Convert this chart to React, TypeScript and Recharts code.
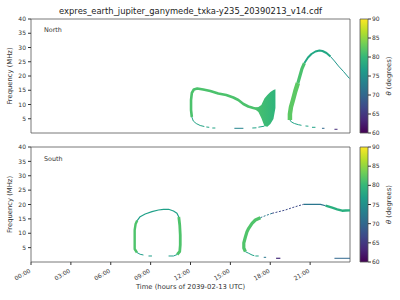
import React from "react";
import {
  ComposedChart,
  Line,
  Area,
  XAxis,
  YAxis,
  ReferenceArea,
  BarChart,
  Bar,
} from "recharts";

type Pt = [number, number | null];

const hourTicks = [0, 3, 6, 9, 12, 15, 18, 21];
const hourLabels = ["00:00", "03:00", "06:00", "09:00", "12:00", "15:00", "18:00", "21:00"];
const freqTicks = [5, 10, 15, 20, 25, 30, 35, 40];
const thetaTicks = [60, 65, 70, 75, 80, 85, 90];
const thetaRange = [{ k: "cb", v: [60, 90] }];

// North: 12h–18h loop
const northLoopTop: Pt[] = [
  [12.1, 5.61], [12.04, 8.07], [12.04, 11.58], [12.1, 14.04], [12.25, 15.26], [12.51, 15.61],
  [12.96, 15.26], [13.49, 14.74], [14.09, 13.86], [14.69, 13.33], [15.22, 12.46], [15.6, 11.58],
  [15.98, 10.18], [16.35, 9.3], [16.73, 8.77], [17.03, 8.42],
];
const northLoopFloor: Pt[] = [
  [12.1, 5.61], [12.21, 4.21], [12.43, 3.33], [12.73, 2.63], [13.04, 2.28], [13.1, null],
  [13.19, 2.11], [13.41, 2.0], [13.5, null], [13.64, 1.75], [13.87, 1.75],
];
const northLoopFloorMid: Pt[] = [[15.3, 1.65], [15.98, 1.65]];
const northLoopFloorRight: Pt[] = [[16.65, 1.75], [16.96, 1.82], [17.0, null], [17.11, 2.04], [17.56, 2.4]];
const northBulgeT = [16.88, 17.11, 17.33, 17.56, 17.78, 18.01, 18.24, 18.39];
const northBulgeLo = [8.25, 7.37, 5.26, 2.5, 2.2, 3.16, 4.9, 8.77];
const northBulgeHi = [8.95, 9.12, 9.82, 12.1, 13.33, 14.39, 15.09, 15.33];

// North: 19h–24h arc
const northArcLow: Pt[] = [[19.48, 4.56], [19.48, 6.67], [19.56, 9.12], [19.71, 11.58], [19.89, 14.74], [20.08, 17.54]];
const northArcMid: Pt[] = [[20.08, 17.54], [20.23, 20.0], [20.38, 22.46], [20.57, 24.56]];
const northArcTop: Pt[] = [
  [20.57, 24.56], [20.84, 26.49], [21.1, 27.72], [21.4, 28.6], [21.7, 28.95], [21.93, 28.77],
  [22.23, 28.07], [22.53, 26.84],
];
const northArcTail: Pt[] = [[22.53, 26.84], [22.83, 25.26], [23.13, 23.51], [23.51, 21.58], [23.96, 19.12]];
const northArcFloor: Pt[] = [
  [19.48, 4.56], [19.59, 3.86], [19.82, 3.33], [20.12, 2.91], [20.35, 2.7], [20.5, null],
  [20.65, 2.46], [20.87, 2.39], [21.0, null], [21.14, 2.0], [21.4, 2.0],
];
const northArcFloorBlue: Pt[] = [[21.89, 1.65], [22.08, 1.65]];
const northArcFloorPurple: Pt[] = [[22.83, 1.3], [23.06, 1.3]];

// South: 8h–11h loop
const southLoopLeft: Pt[] = [[7.97, 3.3], [7.8, 4.52], [7.8, 7.65], [7.8, 11.13], [7.87, 13.22], [7.99, 14.43]];
const southLoopTop: Pt[] = [
  [7.99, 14.43], [8.21, 15.76], [8.59, 16.7], [9.1, 17.5], [9.59, 18.09], [9.97, 18.33],
  [10.35, 18.33], [10.72, 17.74], [10.98, 16.94], [11.12, 15.65],
];
const southLoopRight: Pt[] = [[11.12, 15.65], [11.19, 12.87], [11.23, 9.39], [11.23, 5.91], [11.19, 3.65], [11.0, 2.61]];
const southLoopFloorLeft: Pt[] = [[7.97, 3.3], [8.21, 2.68], [8.46, 2.43], [8.6, null], [8.84, 2.09], [9.1, 2.09]];
const southLoopFloorRight: Pt[] = [[11.0, 2.61], [10.72, 2.09], [10.35, 2.09]];

// South: 16h–24h arc
const southArcLeft: Pt[] = [
  [16.13, 3.58], [16.01, 4.87], [16.01, 6.61], [16.13, 8.7], [16.25, 10.54], [16.38, 11.72],
  [16.63, 13.46], [16.88, 14.61], [17.26, 15.41],
];
const southArcDashA: Pt[] = [[17.26, 15.41], [17.63, 16.1], [18.14, 16.94]];
const southArcDashB: Pt[] = [[18.14, 16.94], [18.64, 17.5], [19.14, 18.09], [19.65, 18.89], [20.14, 19.58], [20.52, 20.07]];
const southArcTop: Pt[] = [[20.52, 20.07], [21.78, 20.07], [22.16, 19.58]];
const southArcTail: Pt[] = [[22.16, 19.58], [22.66, 18.89], [23.04, 18.33], [23.41, 17.84], [23.66, 17.91], [24.04, 17.98]];
const southArcFloor: Pt[] = [[16.13, 3.58], [16.38, 3.03], [16.63, 2.43], [16.8, 2.19], [16.84, null], [16.88, 2.09], [17.13, 2.09]];
const southArcFloorTeal: Pt[] = [[17.51, 1.63], [17.69, 1.63]];
const southArcFloorPurple: Pt[] = [[18.44, 1.29], [18.76, 1.29]];
const southArcFloorBlue: Pt[] = [[22.83, 1.29], [24.04, 1.29]];

const viridis = ["#fde725", "#b5de2b", "#6ece58", "#35b779", "#1f9e89", "#26828e", "#31688e", "#3e4989", "#482878", "#440154"];

const pts = (a: Pt[]) => a.map(([t, f]) => ({ t, f }));
const bulge = northBulgeT.map((t, i) => ({ t, r: [northBulgeLo[i], northBulgeHi[i]] }));

const TEXT = "#333";
const FRAME = "#555";

type Trace = { d: Pt[]; c: string; w: number; dash?: string };

const northTraces: Trace[] = [
  { d: northLoopTop, c: "#4cc26c", w: 2.6 },
  { d: northLoopFloor, c: "#23a384", w: 1 },
  { d: northLoopFloorMid, c: "#25848e", w: 1 },
  { d: northLoopFloorRight, c: "#20a386", w: 1 },
  { d: northArcLow, c: "#5cc863", w: 4.5 },
  { d: northArcMid, c: "#4ac16d", w: 3.2 },
  { d: northArcTop, c: "#22a884", w: 2 },
  { d: northArcTail, c: "#1f968b", w: 1 },
  { d: northArcFloor, c: "#20a386", w: 1 },
  { d: northArcFloorBlue, c: "#31688e", w: 1 },
  { d: northArcFloorPurple, c: "#472d7b", w: 1 },
];

const southTraces: Trace[] = [
  { d: southLoopLeft, c: "#4ec36b", w: 2.4 },
  { d: southLoopTop, c: "#1fa088", w: 1.2 },
  { d: southLoopRight, c: "#4ec36b", w: 2.8 },
  { d: southLoopFloorLeft, c: "#1f9e89", w: 1 },
  { d: southLoopFloorRight, c: "#1f9e89", w: 1 },
  { d: southArcLeft, c: "#50c46a", w: 3.2 },
  { d: southArcDashA, c: "#2a788e", w: 1, dash: "2 1.5" },
  { d: southArcDashB, c: "#3e4c8a", w: 1, dash: "2 1.5" },
  { d: southArcTop, c: "#2a768e", w: 1.2 },
  { d: southArcTail, c: "#29af7f", w: 2.4 },
  { d: southArcFloor, c: "#20a386", w: 1 },
  { d: southArcFloorTeal, c: "#2a788e", w: 1 },
  { d: southArcFloorPurple, c: "#472d7b", w: 1.2 },
  { d: southArcFloorBlue, c: "#31688e", w: 1 },
];

function XTick(props: any) {
  const { x, y, payload } = props;
  const label = hourLabels[hourTicks.indexOf(payload.value)];
  const ay = y + 5;
  return (
    <text x={x} y={ay} transform={`rotate(-30 ${x} ${ay})`} textAnchor="end" fontSize={6} fill={TEXT}>
      {label}
    </text>
  );
}

function Panel({ traces, showBulge, height, top, xHeight, labels }: any) {
  return (
    <div style={{ position: "absolute", left: 0, top }}>
      <ComposedChart width={400} height={height} margin={{ top: top === 0 ? 19 : 7, right: 50, bottom: 0, left: 0 }}>
        <defs>
          <linearGradient id="bulgeFill" x1="0" y1="0" x2="1" y2="0">
            <stop offset="0%" stopColor="#4ac16d" />
            <stop offset="100%" stopColor="#2fb47c" />
          </linearGradient>
        </defs>
        <XAxis
          type="number"
          dataKey="t"
          domain={[0, 24]}
          ticks={hourTicks}
          allowDataOverflow
          height={xHeight}
          tickSize={3}
          axisLine={false}
          tickLine={{ stroke: TEXT }}
          tick={labels ? <XTick /> : false}
          tickFormatter={() => ""}
        />
        <YAxis
          type="number"
          domain={[0, 40]}
          ticks={freqTicks}
          allowDataOverflow
          width={31}
          tickSize={3}
          tickMargin={2}
          axisLine={false}
          tickLine={{ stroke: TEXT }}
          tick={{ fontSize: 6, fill: TEXT }}
        />
        {showBulge && (
          <Area
            data={bulge}
            dataKey="r"
            type="linear"
            stroke="none"
            fill="url(#bulgeFill)"
            fillOpacity={1}
            isAnimationActive={false}
          />
        )}
        {traces.map((s: Trace, i: number) => (
          <Line
            key={i}
            data={pts(s.d)}
            dataKey="f"
            type="linear"
            stroke={s.c}
            strokeWidth={s.w}
            strokeDasharray={s.dash}
            strokeLinejoin="round"
            dot={false}
            connectNulls={false}
            isAnimationActive={false}
          />
        ))}
        <ReferenceArea x1={0} x2={24} y1={0} y2={40} fill="none" stroke={FRAME} strokeWidth={0.8} ifOverflow="visible" />
      </ComposedChart>
    </div>
  );
}

function ColorBar({ top, height, mTop, mBottom, id }: any) {
  return (
    <div style={{ position: "absolute", left: 0, top }}>
      <BarChart width={400} height={height} data={thetaRange} barCategoryGap={0} margin={{ top: mTop, right: 12, bottom: mBottom, left: 360 }}>
        <defs>
          <linearGradient id={id} x1="0" y1="0" x2="0" y2="1">
            {viridis.map((c, i) => (
              <stop key={i} offset={`${(i / (viridis.length - 1)) * 100}%`} stopColor={c} />
            ))}
          </linearGradient>
        </defs>
        <XAxis dataKey="k" hide />
        <YAxis
          orientation="right"
          type="number"
          domain={[60, 90]}
          ticks={thetaTicks}
          width={20}
          tickSize={3}
          tickMargin={1}
          axisLine={false}
          tickLine={{ stroke: TEXT }}
          tick={{ fontSize: 6, fill: TEXT, textAnchor: "start" }}
        />
        <Bar dataKey="v" fill={`url(#${id})`} stroke={FRAME} strokeWidth={0.8} isAnimationActive={false} />
      </BarChart>
    </div>
  );
}

export default function App() {
  const title = "expres_earth_jupiter_ganymede_txka-y235_20390213_v14.cdf";
  return (
    <div
      style={{
        position: "absolute",
        left: 0,
        top: 0,
        width: 400,
        height: 300,
        background: "#fff",
        fontFamily: "'DejaVu Sans', sans-serif",
        overflow: "hidden",
      }}
    >
      <Panel traces={northTraces} showBulge height={140} top={0} xHeight={7} labels={false} />
      <Panel traces={southTraces} showBulge={false} height={160} top={140} xHeight={38} labels />
      <ColorBar top={0} height={140} mTop={19} mBottom={7} id="viridisN" />
      <ColorBar top={140} height={160} mTop={7} mBottom={38} id="viridisS" />
      <svg width={400} height={300} style={{ position: "absolute", left: 0, top: 0, pointerEvents: "none" }}>
        <text x={190.5} y={13.5} textAnchor="middle" fontSize={8.4} fill="#222">
          {title}
        </text>
        <text x={44} y={32} fontSize={6.4} fill={TEXT}>North</text>
        <text x={44} y={161} fontSize={6.4} fill={TEXT}>South</text>
        {[76, 204.5].map((cy) => (
          <text key={cy} x={9.8} y={cy} transform={`rotate(-90 9.8 ${cy})`} textAnchor="middle" dominantBaseline="central" fontSize={6.8} fill={TEXT}>
            Frequency (MHz)
          </text>
        ))}
        <text x={190.5} y={289} textAnchor="middle" fontSize={6.8} fill={TEXT}>
          Time (hours of 2039-02-13 UTC)
        </text>
        {[76, 204.5].map((cy) => (
          <text key={cy} x={388.5} y={cy} transform={`rotate(-90 388.5 ${cy})`} textAnchor="middle" dominantBaseline="central" fontSize={6.8} fill={TEXT}>
            <tspan fontStyle="italic">θ</tspan> (degrees)
          </text>
        ))}
      </svg>
    </div>
  );
}
